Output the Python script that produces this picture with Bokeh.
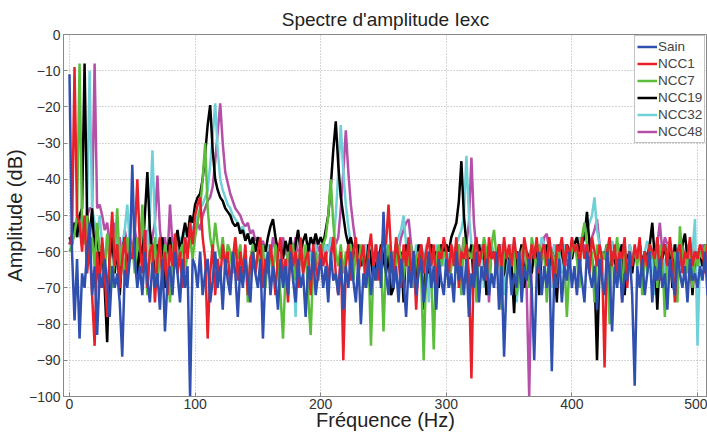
from bokeh.plotting import figure
from bokeh.models import Range1d, FixedTicker, Legend, LegendItem, ColumnDataSource
from bokeh.embed import file_html
from bokeh.resources import INLINE

# Frequency grid (Hz), 2 Hz resolution
freq = list(range(0, 510, 2))

# Amplitude spectra (dB)
sain = [
    -11, -60, -79, -62, -84, -66, -70, -60, -52, -72, -64, -83, -66, -70, -62, -68, -78, -64, -70, -66, -74, -89, -65, -70, -62,
    -36, -62, -70, -64, -72, -60, -68, -74, -63, -70, -66, -76, -62, -82, -68, -64, -72, -60, -66, -74, -62, -70, -64, -100, -62,
    -64, -70, -60, -72, -66, -62, -74, -68, -60, -70, -64, -76, -62, -68, -72, -60, -66, -78, -64, -70, -62, -68, -74, -60, -66,
    -70, -62, -84, -66, -60, -72, -64, -68, -76, -62, -70, -64, -72, -60, -68, -74, -62, -70, -66, -78, -64, -68, -60, -72, -66,
    -62, -70, -64, -74, -60, -68, -66, -72, -62, -76, -64, -70, -60, -68, -74, -62, -80, -66, -70, -62, -72, -64, -68, -60, -70,
    -49, -66, -72, -60, -70, -64, -74, -62, -68, -78, -64, -70, -60, -72, -66, -62, -74, -68, -60, -70, -64, -76, -62, -68, -72,
    -62, -70, -66, -74, -60, -68, -64, -72, -62, -78, -66, -70, -60, -74, -64, -68, -62, -72, -66, -70, -60, -76, -64, -89, -68,
    -62, -72, -66, -70, -60, -74, -64, -68, -62, -70, -90, -66, -60, -72, -64, -70, -62, -93, -66, -70, -62, -74, -64, -68, -60,
    -70, -64, -72, -62, -68, -74, -60, -66, -70, -64, -76, -62, -68, -72, -60, -66, -82, -64, -70, -62, -74, -66, -68, -60, -72,
    -97, -64, -70, -62, -72, -66, -60, -74, -64, -68, -62, -70, -66, -76, -62, -68, -72, -60, -66, -70, -64, -74, -62, -68, -66,
    -70, -64, -68, -60, -72,
]
ncc1 = [
    -58, -55, -9, -50, -52, -60, -50, -66, -58, -72, -86, -60, -70, -56, -66, -78, -60, -49, -64, -58, -70, -62, -56, -68, -60,
    -62, -55, -40, -58, -66, -54, -70, -60, -58, -74, -62, -56, -68, -60, -72, -58, -64, -55, -66, -60, -70, -56, -62, -52, -58,
    -50, -47, -45, -56, -62, -84, -66, -58, -72, -62, -68, -58, -64, -60, -70, -62, -56, -68, -60, -66, -58, -72, -62, -60, -66,
    -60, -56, -70, -62, -66, -58, -64, -72, -60, -56, -68, -62, -74, -58, -64, -60, -70, -56, -66, -62, -60, -72, -58, -64, -68,
    -58, -64, -60, -68, -62, -56, -66, -72, -60, -90, -64, -58, -68, -60, -56, -66, -62, -58, -70, -60, -55, -64, -58, -68, -60,
    -56, -58, -47, -60, -66, -56, -62, -70, -58, -64, -56, -68, -60, -76, -62, -58, -66, -60, -56, -64, -58, -70, -60, -62, -56,
    -60, -66, -58, -64, -56, -70, -60, -62, -58, -66, -95, -60, -56, -64, -60, -58, -68, -56, -62, -60, -66, -58, -64, -56, -62,
    -58, -64, -56, -62, -60, -68, -56, -60, -64, -58, -62, -56, -66, -60, -58, -64, -56, -62, -70, -58, -60, -56, -64, -58, -62,
    -56, -60, -58, -64, -56, -62, -58, -66, -56, -60, -64, -58, -62, -92, -60, -56, -64, -58, -66, -60, -62, -56, -70, -60, -64,
    -58, -62, -56, -66, -60, -64, -58, -60, -62, -56, -68, -60, -58, -64, -56, -62, -74, -60, -58, -66, -60, -62, -56, -64, -60,
    -62, -58, -60, -66, -58,
]
ncc7 = [
    -60, -58, -55, -50, -8, -52, -58, -50, -62, -56, -64, -52, -60, -58, -66, -55, -62, -70, -60, -48, -64, -58, -68, -56, -62,
    -58, -66, -56, -60, -47, -62, -72, -58, -64, -56, -70, -60, -66, -58, -62, -74, -60, -56, -64, -60, -58, -66, -60, -56, -62,
    -56, -52, -48, -40, -30, -48, -56, -60, -52, -58, -62, -56, -64, -58, -60, -66, -56, -62, -58, -68, -60, -74, -62, -58, -66,
    -60, -64, -58, -70, -62, -60, -66, -58, -64, -72, -84, -66, -60, -64, -58, -68, -62, -60, -66, -58, -72, -83, -64, -60, -66,
    -62, -58, -56, -50, -40, -52, -60, -64, -58, -66, -60, -62, -58, -68, -60, -64, -58, -62, -70, -60, -86, -64, -60, -66, -62,
    -82, -62, -58, -66, -60, -64, -58, -62, -68, -60, -64, -58, -70, -62, -60, -66, -90, -64, -60, -66, -87, -62, -58, -64, -60,
    -62, -70, -64, -60, -66, -58, -72, -56, -64, -60, -62, -58, -74, -60, -62, -56, -60, -68, -58, -54, -62, -60, -76, -58, -62,
    -60, -64, -58, -72, -66, -60, -58, -64, -70, -56, -60, -66, -58, -62, -60, -74, -58, -60, -62, -66, -60, -57, -62, -78, -64,
    -60, -58, -62, -70, -56, -52, -58, -64, -60, -74, -58, -66, -60, -62, -58, -80, -60, -62, -56, -64, -72, -58, -66, -60, -62,
    -60, -64, -58, -72, -60, -66, -58, -62, -60, -70, -58, -62, -78, -60, -58, -62, -60, -74, -53, -62, -60, -66, -58, -70, -60,
    -64, -60, -62, -58, -66,
]
ncc19 = [
    -56, -58, -52, -56, -50, -48, -8, -50, -56, -48, -60, -54, -64, -58, -70, -85, -62, -56, -66, -58, -72, -60, -56, -64, -58,
    -62, -56, -68, -58, -62, -50, -38, -54, -60, -66, -58, -62, -56, -70, -60, -56, -64, -58, -54, -60, -56, -52, -56, -50, -52,
    -47, -45, -44, -40, -33, -25, -19.5, -32, -40, -43, -45, -46, -48, -49, -50, -52, -53, -52, -55, -54, -57, -55, -58, -56, -60,
    -56, -62, -58, -60, -56, -53, -51, -56, -60, -58, -62, -57, -60, -56, -62, -58, -54, -60, -57, -55, -60, -56, -58, -55, -58,
    -56, -58, -54, -50, -42, -32, -24, -36, -45, -50, -55, -58, -56, -60, -62, -58, -64, -60, -66, -58, -62, -68, -60, -64, -58,
    -62, -66, -60, -72, -70, -58, -62, -60, -74, -58, -64, -62, -60, -68, -58, -62, -76, -60, -66, -58, -62, -60, -70, -58, -60,
    -58, -60, -56, -54, -52, -46, -35, -50, -58, -62, -58, -70, -64, -58, -62, -60, -72, -58, -62, -60, -64, -58, -68, -66, -60,
    -62, -64, -77, -60, -62, -58, -70, -60, -62, -66, -60, -58, -72, -60, -62, -58, -64, -60, -62, -74, -58, -60, -64, -58, -60,
    -62, -58, -56, -60, -58, -56, -49, -58, -62, -66, -90, -64, -60, -62, -58, -70, -60, -62, -66, -60, -58, -72, -62, -60, -66,
    -60, -62, -58, -64, -60, -62, -58, -52, -62, -76, -60, -62, -58, -64, -60, -70, -58, -64, -60, -58, -55, -62, -60, -72, -60,
    -62, -60, -64, -58, -62,
]
ncc32 = [
    -58, -56, -54, -52, -56, -50, -54, -48, -10, -48, -52, -56, -50, -58, -62, -56, -64, -58, -60, -56, -62, -58, -54, -47, -58,
    -60, -56, -62, -58, -56, -64, -58, -50, -32, -52, -60, -56, -62, -58, -64, -56, -60, -58, -62, -56, -58, -54, -56, -52, -54,
    -52, -50, -48, -47, -45, -43, -36, -28, -19, -32, -40, -43, -45, -47, -48, -50, -51, -52, -54, -53, -56, -55, -58, -57, -60,
    -58, -62, -60, -64, -58, -62, -66, -60, -64, -58, -62, -68, -60, -64, -62, -78, -60, -64, -58, -62, -66, -60, -64, -58, -62,
    -60, -62, -58, -60, -56, -58, -50, -38, -25, -38, -47, -53, -58, -62, -58, -64, -60, -62, -58, -66, -60, -62, -58, -64, -60,
    -62, -58, -64, -60, -62, -58, -56, -54, -50, -58, -62, -70, -64, -58, -62, -60, -66, -58, -74, -60, -64, -58, -62, -60, -64,
    -60, -62, -58, -60, -58, -56, -54, -50, -33.5, -50, -58, -62, -60, -64, -58, -70, -60, -66, -58, -62, -60, -64, -58, -72, -60,
    -64, -58, -62, -74, -66, -58, -62, -60, -64, -58, -62, -60, -60, -56, -58, -62, -60, -70, -58, -62, -60, -66, -58, -62, -60,
    -62, -58, -60, -56, -58, -56, -54, -52, -50, -45, -54, -58, -62, -60, -58, -62, -57, -60, -64, -58, -62, -60, -66, -58, -62,
    -60, -62, -58, -64, -60, -57, -62, -60, -72, -58, -62, -60, -66, -58, -62, -60, -64, -58, -62, -60, -66, -58, -62, -60, -51,
    -86, -62, -64, -58, -62,
]
ncc48 = [
    -58, -56, -52, -54, -50, -56, -52, -50, -48, -48, -8, -48, -47, -50, -54, -52, -58, -56, -52, -60, -56, -62, -54, -58, -56,
    -60, -54, -58, -62, -56, -60, -54, -58, -56, -52, -39, -54, -60, -56, -62, -47, -58, -60, -56, -62, -58, -56, -60, -54, -56,
    -54, -52, -54, -50, -48, -46, -45, -42, -35, -27, -19, -30, -38, -41, -44, -46, -48, -49, -50, -52, -53, -52, -55, -54, -57,
    -56, -58, -57, -60, -58, -62, -56, -60, -58, -64, -56, -60, -62, -58, -60, -56, -62, -58, -60, -64, -58, -60, -62, -56, -60,
    -58, -60, -62, -58, -60, -56, -58, -56, -48, -38, -26.5, -38, -47, -53, -58, -62, -60, -64, -58, -62, -60, -66, -58, -62, -60,
    -62, -58, -64, -60, -62, -58, -60, -56, -54, -52, -51, -58, -62, -60, -64, -58, -62, -60, -66, -58, -62, -72, -64, -58, -62,
    -60, -64, -58, -62, -60, -58, -62, -56, -58, -52, -34, -52, -60, -64, -58, -62, -60, -74, -58, -62, -60, -64, -58, -62, -60,
    -62, -58, -64, -60, -62, -58, -64, -70, -100, -62, -60, -58, -62, -60, -56, -55, -60, -62, -58, -72, -60, -62, -58, -64, -60,
    -62, -58, -60, -56, -60, -58, -62, -58, -56, -54, -51, -58, -62, -60, -64, -58, -62, -60, -64, -58, -74, -60, -66, -58, -62,
    -60, -62, -58, -64, -60, -62, -58, -60, -64, -58, -52, -60, -56, -58, -60, -62, -58, -60, -64, -58, -62, -60, -64, -58, -62,
    -60, -64, -58, -62, -60,
]

names = ["Sain", "NCC1", "NCC7", "NCC19", "NCC32", "NCC48"]
series = [sain, ncc1, ncc7, ncc19, ncc32, ncc48]
colors = ["#3050b0", "#e8202a", "#5cbd3c", "#000000", "#70d0d8", "#b450a8"]

x_ticks = [0, 100, 200, 300, 400, 500]
y_ticks = [-100, -90, -80, -70, -60, -50, -40, -30, -20, -10, 0]

FONT = "Liberation Sans"

p = figure(width=707, height=436, output_backend="svg", toolbar_location=None,
           x_range=Range1d(-4.78, 507.96), y_range=Range1d(-100, 0),
           min_border_left=63, min_border_right=0, min_border_top=34, min_border_bottom=40)

p.title.text = "Spectre d'amplitude Iexc"
p.title.align = "center"
p.title.text_font = FONT
p.title.text_font_size = "19px"
p.title.text_font_style = "normal"
p.title.text_color = "#222222"
p.title.standoff = 10

renderers = {}
for i in [5, 4, 3, 2, 1, 0]:
    src = ColumnDataSource(dict(x=freq[:len(series[i])], y=series[i]))
    renderers[i] = p.line("x", "y", source=src, line_color=colors[i], line_width=2.5)

legend = Legend(items=[LegendItem(label=names[i], renderers=[renderers[i]]) for i in range(6)],
                location=(571, 253))
legend.label_text_font = FONT
legend.label_text_font_size = "13.5px"
legend.label_standoff = 1
legend.glyph_width = 20
legend.glyph_height = 17
legend.label_height = 17
legend.spacing = 0
legend.padding = 2
legend.margin = 0
legend.border_line_color = "#888888"
legend.background_fill_alpha = 1.0
p.add_layout(legend)

p.xaxis.ticker = FixedTicker(ticks=x_ticks)
p.yaxis.ticker = FixedTicker(ticks=y_ticks)
for ax in (p.xaxis, p.yaxis):
    ax.major_tick_in = 4
    ax.major_tick_out = 0
    ax.minor_tick_line_color = None
    ax.axis_line_color = "#888888"
    ax.major_tick_line_color = "#888888"
    ax.major_label_text_font = FONT
    ax.major_label_text_font_size = "14px"
    ax.major_label_text_color = "#333333"
    ax.axis_label_text_font = FONT
    ax.axis_label_text_font_size = "20px"
    ax.axis_label_text_font_style = "normal"
    ax.axis_label_text_color = "#222222"
p.xaxis.axis_label = "Fréquence (Hz)"
p.yaxis.axis_label = "Amplitude (dB)"
p.xaxis.major_label_standoff = 2
p.xaxis.axis_label_standoff = -3
p.yaxis.major_label_standoff = 3
p.yaxis.axis_label_standoff = 0

p.grid.grid_line_color = "#aaaaaa"
p.grid.grid_line_dash = "1 2"
p.grid.grid_line_width = 1
p.outline_line_color = "#888888"
p.background_fill_color = "white"
p.border_fill_color = "white"

open("out.html", "w").write(file_html(p, INLINE))
